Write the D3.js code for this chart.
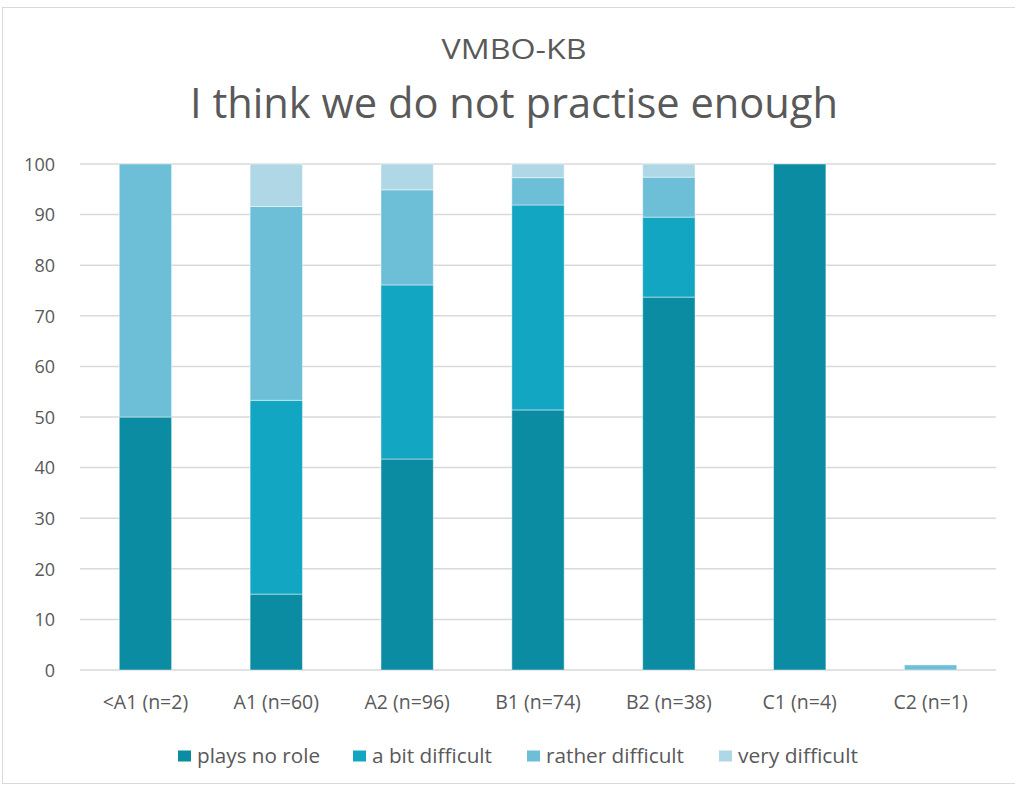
<!DOCTYPE html>
<html>
<head>
<meta charset="utf-8">
<script src="https://cdn.jsdelivr.net/npm/d3@7/dist/d3.min.js"></script>
<style>
  html, body { margin: 0; padding: 0; background: #fff; }
  svg { display: block; }
  text { font-family: "Open Sans", "Noto Sans", sans-serif; fill: #595959; }
</style>
</head>
<body>
<svg id="chart" width="1015" height="787"></svg>
<script>
// Proficiency levels along the x axis
const categories = ["<A1 (n=2)", "A1 (n=60)", "A2 (n=96)", "B1 (n=74)", "B2 (n=38)", "C1 (n=4)", "C2 (n=1)"];

// Percentage of answers per level, one array per answer option
const playsNoRole      = [50, 15.0, 41.7, 51.4, 73.7, 100, 0];
const aBitDifficult    = [0, 38.3, 34.4, 40.5, 15.8, 0, 0];
const ratherDifficult  = [50, 38.3, 18.8, 5.4, 7.9, 0, 1];
const veryDifficult    = [0, 8.4, 5.1, 2.7, 2.6, 0, 0];

const seriesNames  = ["plays no role", "a bit difficult", "rather difficult", "very difficult"];
const seriesColors = ["#0c8ca3", "#13a6c3", "#6cbfd7", "#afd7e5"];
const yTicks = [0, 10, 20, 30, 40, 50, 60, 70, 80, 90, 100];

const seriesValues = [playsNoRole, aBitDifficult, ratherDifficult, veryDifficult];
const rows = categories.map((c, i) => {
  const r = { category: c };
  seriesNames.forEach((s, k) => { r[s] = seriesValues[k][i]; });
  return r;
});

const svg = d3.select("#chart");

// chart frame
svg.append("rect")
  .attr("x", 2.5).attr("y", 7.5)
  .attr("width", 1030).attr("height", 776)
  .attr("fill", "#fff").attr("stroke", "#d9d9d9").attr("stroke-width", 1);

const plot = { left: 80, right: 996, top: 164, bottom: 670 };

const x = d3.scaleBand()
  .domain(categories)
  .range([plot.left, plot.right])
  .paddingInner(0.6)
  .paddingOuter(0.3);

const y = d3.scaleLinear().domain([0, 100]).range([plot.bottom, plot.top]);

// titles
svg.append("text")
  .attr("x", 514).attr("y", 59)
  .attr("text-anchor", "middle")
  .attr("textLength", 145)
  .attr("lengthAdjust", "spacingAndGlyphs")
  .style("font-size", "27px")
  .text("VMBO-KB");
svg.append("text")
  .attr("x", 514).attr("y", 118)
  .attr("text-anchor", "middle")
  .attr("textLength", 648)
  .attr("lengthAdjust", "spacingAndGlyphs")
  .style("font-size", "42px")
  .text("I think we do not practise enough");

// gridlines
svg.append("g")
  .selectAll("line")
  .data(yTicks)
  .join("line")
  .attr("x1", plot.left).attr("x2", plot.right)
  .attr("y1", d => y(d)).attr("y2", d => y(d))
  .attr("stroke", "#d9d9d9").attr("stroke-width", 1.5);

// y axis labels
const yAxis = d3.axisLeft(y).tickValues(yTicks).tickSize(0).tickPadding(0);
const gy = svg.append("g").attr("transform", `translate(55,0)`).call(yAxis);
gy.select(".domain").remove();
gy.selectAll("text")
  .style("font-size", "18px")
  .style("font-family", "'Open Sans', sans-serif")
  .attr("fill", "#595959")
  .attr("dy", "0.35em");

// stacked bars
const stack = d3.stack().keys(seriesNames);
const layers = stack(rows);

svg.append("g")
  .selectAll("g")
  .data(layers)
  .join("g")
  .attr("fill", (d, i) => seriesColors[i])
  .selectAll("rect")
  .data(d => d.filter(p => p[1] - p[0] > 0))
  .join("rect")
  .attr("x", d => x(d.data.category))
  .attr("width", x.bandwidth())
  .attr("y", d => y(d[1]))
  .attr("height", d => y(d[0]) - y(d[1]))
  .attr("stroke", "#ffffff")
  .attr("stroke-opacity", 0.45)
  .attr("stroke-width", 1);

// x axis labels
const xAxis = d3.axisBottom(x).tickSize(0).tickPadding(0);
const gx = svg.append("g").attr("transform", `translate(0,${plot.bottom + 32})`).call(xAxis);
gx.select(".domain").remove();
gx.selectAll("text")
  .style("font-size", "19.5px")
  .style("font-family", "'Open Sans', sans-serif")
  .attr("fill", "#595959")
  .attr("dy", "0.35em");

// legend
const legendX = [178, 353, 527, 719];
const legendW = [123, 120, 138, 120];
const legend = svg.append("g")
  .selectAll("g")
  .data(seriesNames)
  .join("g")
  .attr("transform", (d, i) => `translate(${legendX[i]},756)`);
legend.append("rect")
  .attr("x", 0).attr("y", -5.5)
  .attr("width", 13).attr("height", 11)
  .attr("fill", (d, i) => seriesColors[i]);
legend.append("text")
  .attr("x", 19).attr("y", 0)
  .attr("dy", "0.35em")
  .attr("textLength", (d, i) => legendW[i])
  .attr("lengthAdjust", "spacingAndGlyphs")
  .style("font-size", "20px")
  .text(d => d);
</script>
</body>
</html>
